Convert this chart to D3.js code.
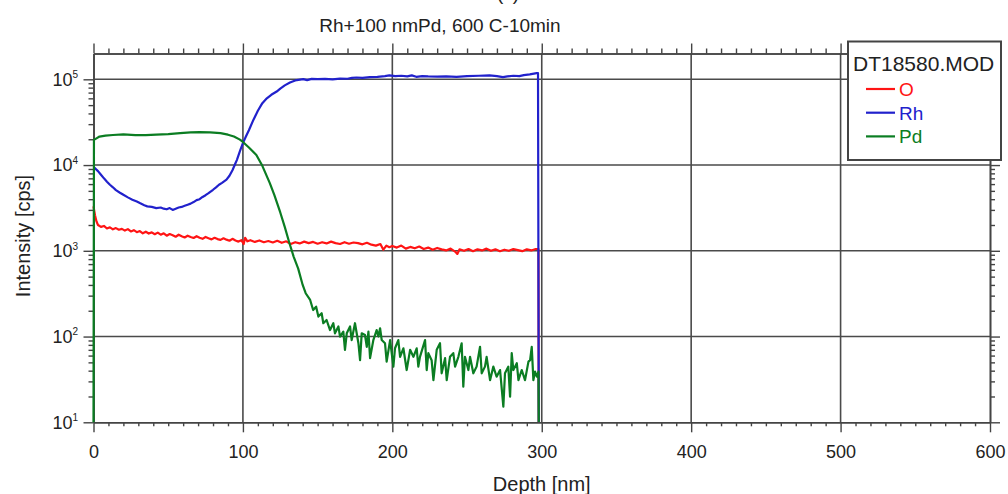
<!DOCTYPE html>
<html><head><meta charset="utf-8">
<script src="https://cdn.jsdelivr.net/npm/d3@7"></script>
<style>
body{margin:0;background:#fff}
text{font-family:"Liberation Sans",Arial,sans-serif;fill:#222}
</style>
</head><body><svg id="c" width="1008" height="494"></svg>
<script>
const seriesNames = ["O", "Rh", "Pd"];
const seriesColors = ["#ff1414", "#2121cc", "#0b7d22"];
const legendTitle = "DT18580.MOD";
const chartTitle = "Rh+100 nmPd, 600 C-10min";
const panelLabel = "(c)";
const xLabel = "Depth [nm]";
const yLabel = "Intensity [cps]";
const xTicks = [0, 100, 200, 300, 400, 500, 600];
const yDecades = [10, 100, 1000, 10000, 100000];

const depthO = [0,1,2,3,5,7,9,11,13,15,17,19,21,23,25,27,29,31,33,35,37,39,41,43,45,47,49,51,53,55,57,59,61,63,65,67,69,71,73,75,77,79,81,83,85,87,89,91,93,95,97,99,100.5,101.5,103,105,108,111,114,117,120,123,126,129,132,135,138,141,144,147,150,153,156,159,162,165,168,171,174,177,180,183,186,189,192,194,196,198,200,203,206,209,212,215,218,221,224,227,230,233,236,239,242,243.5,245,248,251,254,257,260,263,266,269,272,275,278,281,284,287,290,293,296,297.8,298];
const intensityO = [3300,2600,2200,2000,1900,1950,1820,1880,1780,1840,1760,1800,1720,1790,1680,1740,1650,1700,1600,1670,1590,1640,1560,1630,1540,1600,1500,1570,1520,1460,1540,1480,1430,1500,1450,1410,1480,1420,1380,1450,1400,1360,1420,1370,1340,1400,1350,1310,1380,1320,1280,1330,1200,1420,1290,1330,1270,1320,1260,1300,1250,1310,1240,1290,1200,1260,1220,1280,1230,1270,1210,1260,1220,1280,1230,1200,1260,1210,1250,1230,1190,1240,1180,1150,1200,1030,1150,1100,1140,1090,1150,1060,1110,1070,1120,1050,1090,1030,1080,1040,1010,1060,980,920,1040,1000,1050,990,1040,1010,1060,1000,1040,990,1030,1000,1050,1020,990,1040,1010,1050,1050,10];

const depthRh = [0,1,3,5,7,9,11,13,15,17.7,20,23,26,29,31,34,36,39,42,45,47,49,51,53,55,57,59,61,63,65,67,69,71,73,75,77,80,82,84,86,89,91,93,95,96,98,100,102,104,107,110,113,116,119,122.6,125,128,131.5,135,140.4,143,146,150,155,160,165,170,173,176,180,185,190,195,198,202,206,210,213,216,220,224,230,236,243,250,258,265,270,274,277,281,285,288,292,296.6,297.5,298];
const intensityRh = [9500,9200,8500,7700,7000,6400,5900,5500,5100,4750,4500,4200,3950,3750,3600,3400,3300,3250,3150,3200,3100,3050,3150,3000,3100,3200,3250,3350,3450,3550,3700,3900,4000,4250,4450,4700,5150,5500,5900,6200,6750,7500,8700,10500,11500,14500,18000,21500,25500,33600,43000,52700,60000,66000,72000,78000,85000,91800,97000,100500,98000,101000,100500,101000,100000,102000,101500,104000,105000,104000,106000,107000,109000,111000,109000,110000,108000,111000,107000,109000,108000,107500,108000,107000,109000,110000,111000,109000,106000,108000,110000,109000,112000,114000,118000,118000,10];

const depthPd = [0,0.3,2,4,8,13,20,28,35,42,50,58,65,71,78,85,90,94,98,100,104,109,113,118,121,125,128,131,134,137,140,142,145,147,149,150.5,152.7,153.8,156,158.3,160.5,161.6,163.9,165,167.2,168.3,169.5,171.7,172.8,175,177.3,178.4,179.5,181.7,182.9,184,185.1,187.3,189.5,190.7,191.8,192.9,195.1,196.2,198.5,200.7,201.8,204,205.2,207.4,209.6,211.9,214.1,216.3,217.4,218.5,221.9,223,224.1,226.3,227.5,229.7,231.9,233,235.3,236.4,238.6,240.8,242,244.2,246.4,247.5,248.6,250.9,252,254.2,256.4,258.7,259.8,262,263.1,265.4,267.6,269.8,272.1,274.3,275.4,277.6,278.8,279.9,281,283.3,284.4,286.6,288.8,291.1,292.2,293.3,294.4,295.5,296.7,297.8,298];
const intensityPd = [10,19700,20500,21500,22000,22400,22800,22300,22400,22700,23000,23600,24000,24200,24000,23600,22600,21500,19800,18600,16000,13100,9800,6150,4500,2800,1900,1250,850,620,400,320,267,204,223,171,187,143,156,119,143,109,131,100,114,70,109,131,91,143,83.5,53,109,104,76,114,56,91,119,100,125,91,83.5,51,91,44.6,73,91,58,73,40.7,70,58,73,44.6,58,91,40.7,64,53,31,70,83.5,37.3,56,31,58,64,44.6,58,83.5,26,58,40.7,58,37.3,44.6,76,37.3,44.6,58,31,44.6,34,40.7,15.2,37.3,44.6,19.9,64,40.7,49,31,40.7,31,51,53,76,31,39,34,39,10];

const depthSeries = [depthO, depthRh, depthPd];
const intensitySeries = [intensityO, intensityRh, intensityPd];

const svg = d3.select("#c");
const x = d3.scaleLinear().domain([0, 600]).range([93.5, 990]);
const y = d3.scaleLog().domain([10, 2e5]).range([422.3, 53.5]);
const axisColor = "#444";

const xMinor = d3.range(0, 601, 10).filter(d => d % 100 !== 0);
const yMinor = [];
yDecades.slice(0, 4).forEach(d => { for (let k = 2; k <= 9; k++) yMinor.push(k * d); });

// gridlines
const grid = svg.append("g").attr("stroke", "#4a4a4a").attr("stroke-width", 1.6);
grid.selectAll("line.vx").data(xTicks.filter(d => d > 0 && d < 600)).join("line")
  .attr("x1", d => x(d)).attr("x2", d => x(d)).attr("y1", y(2e5)).attr("y2", y(10));
grid.selectAll("line.hy").data(yDecades.filter(d => d > 10)).join("line")
  .attr("x1", x(0)).attr("x2", x(600)).attr("y1", d => y(d)).attr("y2", d => y(d));

function styleAxis(g) {
  g.selectAll("path").attr("stroke", axisColor).attr("stroke-width", 1.6);
  g.selectAll("line").attr("stroke", axisColor).attr("stroke-width", 1.4);
}

// bottom axis
svg.append("g").attr("transform", `translate(0,${y(10)})`)
  .call(d3.axisBottom(x).tickValues(xMinor).tickSize(4).tickSizeOuter(0).tickFormat(""))
  .call(styleAxis);
const bx = svg.append("g").attr("transform", `translate(0,${y(10)})`)
  .call(d3.axisBottom(x).tickValues(xTicks).tickSize(10).tickSizeOuter(0).tickPadding(13).tickFormat(d3.format("d")))
  .call(styleAxis);
bx.selectAll("text").attr("font-size", 18).attr("font-family", '"Liberation Sans",Arial,sans-serif').attr("fill", "#222");

// top axis
svg.append("g").attr("transform", `translate(0,${y(2e5)})`)
  .call(d3.axisTop(x).tickValues(xMinor).tickSize(5).tickSizeOuter(0).tickFormat(""))
  .call(styleAxis);
svg.append("g").attr("transform", `translate(0,${y(2e5)})`)
  .call(d3.axisTop(x).tickValues(xTicks).tickSize(10).tickSizeOuter(0).tickFormat(""))
  .call(styleAxis);

// left axis
svg.append("g").attr("transform", `translate(${x(0)},0)`)
  .call(d3.axisLeft(y).tickValues(yMinor).tickSize(5).tickSizeOuter(0).tickFormat(""))
  .call(styleAxis);
const ly = svg.append("g").attr("transform", `translate(${x(0)},0)`)
  .call(d3.axisLeft(y).tickValues(yDecades).tickSize(10).tickSizeOuter(0).tickPadding(5.5).tickFormat(() => "10"))
  .call(styleAxis);
ly.selectAll("text").attr("font-size", 18).attr("font-family", '"Liberation Sans",Arial,sans-serif').attr("fill", "#222")
  .append("tspan").attr("font-size", 10).attr("dy", "-0.75em").text(d => Math.round(Math.log10(d)));

// right axis
svg.append("g").attr("transform", `translate(${x(600)},0)`)
  .call(d3.axisRight(y).tickValues(yMinor).tickSize(5).tickSizeOuter(0).tickFormat(""))
  .call(styleAxis);
svg.append("g").attr("transform", `translate(${x(600)},0)`)
  .call(d3.axisRight(y).tickValues(yDecades).tickSize(10).tickSizeOuter(0).tickFormat(""))
  .call(styleAxis);

// lines
const line = d3.line().x(d => x(d[0])).y(d => y(Math.max(10, d[1])));
seriesNames.forEach((name, i) => {
  const pts = depthSeries[i].map((d, j) => [d, intensitySeries[i][j]]);
  svg.append("path").datum(pts).attr("d", line)
    .attr("fill", "none").attr("stroke", seriesColors[i]).attr("stroke-width", 2.2)
    .attr("stroke-linejoin", "round");
});

// titles
svg.append("text").attr("x", 508).attr("y", 0).attr("text-anchor", "middle").attr("font-size", 19).text(panelLabel);
svg.append("text").attr("x", 440).attr("y", 32).attr("text-anchor", "middle").attr("font-size", 19).text(chartTitle);
svg.append("text").attr("x", x(300)).attr("y", 491).attr("text-anchor", "middle").attr("font-size", 20).text(xLabel);
svg.append("text").attr("transform", "translate(30,236) rotate(-90)").attr("text-anchor", "middle").attr("font-size", 20).text(yLabel);

// legend
const lg = svg.append("g");
lg.append("rect").attr("x", 848).attr("y", 41.5).attr("width", 153).attr("height", 118.5)
  .attr("fill", "#fff").attr("stroke", "#444").attr("stroke-width", 2);
lg.append("text").attr("x", 853).attr("y", 71).attr("font-size", 21).text(legendTitle);
seriesNames.forEach((name, i) => {
  const cy = 89 + i * 23.7;
  lg.append("line").attr("x1", 866).attr("x2", 895).attr("y1", cy).attr("y2", cy)
    .attr("stroke", seriesColors[i]).attr("stroke-width", 2.2);
  lg.append("text").attr("x", 899).attr("y", cy + 7).attr("font-size", 19)
    .style("fill", seriesColors[i]).text(name);
});
</script>
</body></html>
